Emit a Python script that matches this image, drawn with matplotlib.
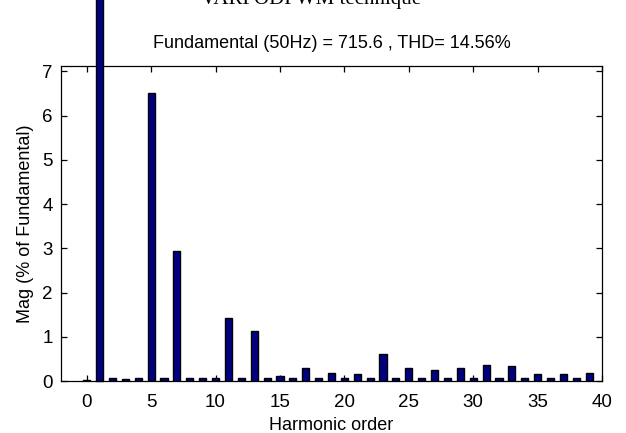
import numpy as np
import matplotlib.pyplot as plt

plt.rcParams["font.family"] = ["Liberation Sans", "DejaVu Sans"]

# =========================
# harmonic spectrum data
# =========================
orders = list(range(0, 40))
mag = [0.02, 100.0, 0.08, 0.04, 0.08, 6.52, 0.08, 2.93, 0.08, 0.08,
       0.08, 1.43, 0.08, 1.12, 0.08, 0.12, 0.08, 0.29, 0.08, 0.19,
       0.08, 0.16, 0.08, 0.60, 0.08, 0.29, 0.08, 0.26, 0.08, 0.29,
       0.08, 0.37, 0.08, 0.33, 0.08, 0.16, 0.08, 0.16, 0.08, 0.19]
xticks = list(range(0, 41, 5))
yticks = list(range(0, 8))

fig = plt.figure(figsize=(6.26, 4.33), dpi=100)
ax = fig.add_axes([0.0974, 0.120, 0.8643, 0.7276])

bars = ax.bar(orders, mag, width=0.55, color="#000080",
              edgecolor="black", linewidth=1.0, zorder=3)
# fundamental bar runs off the axes like the MATLAB export
bars[1].set_clip_on(False)

ax.set_xlim(-2, 40)
ax.set_ylim(0, 7.12)
ax.set_xticks(xticks)
ax.set_yticks(yticks)
ax.tick_params(direction="in", length=4, top=True, right=True,
               labelsize=13.5, width=0.9)
ax.tick_params(axis="x", pad=9)
ax.tick_params(axis="y", pad=6)
for s in ax.spines.values():
    s.set_linewidth(0.9)

ax.set_xlabel("Harmonic order", fontsize=13, labelpad=5)
ax.set_ylabel("Mag (% of Fundamental)", fontsize=13, labelpad=6)
ax.set_title("Fundamental (50Hz) = 715.6 , THD= 14.56%", fontsize=13, pad=13)

# cropped caption at top of the source image
fig.text(0.497, 1 - 4 / 433, "VARPODPWM technique", ha="center",
         va="baseline", fontsize=15, family="Liberation Serif")

plt.savefig("out.png", dpi=100)
